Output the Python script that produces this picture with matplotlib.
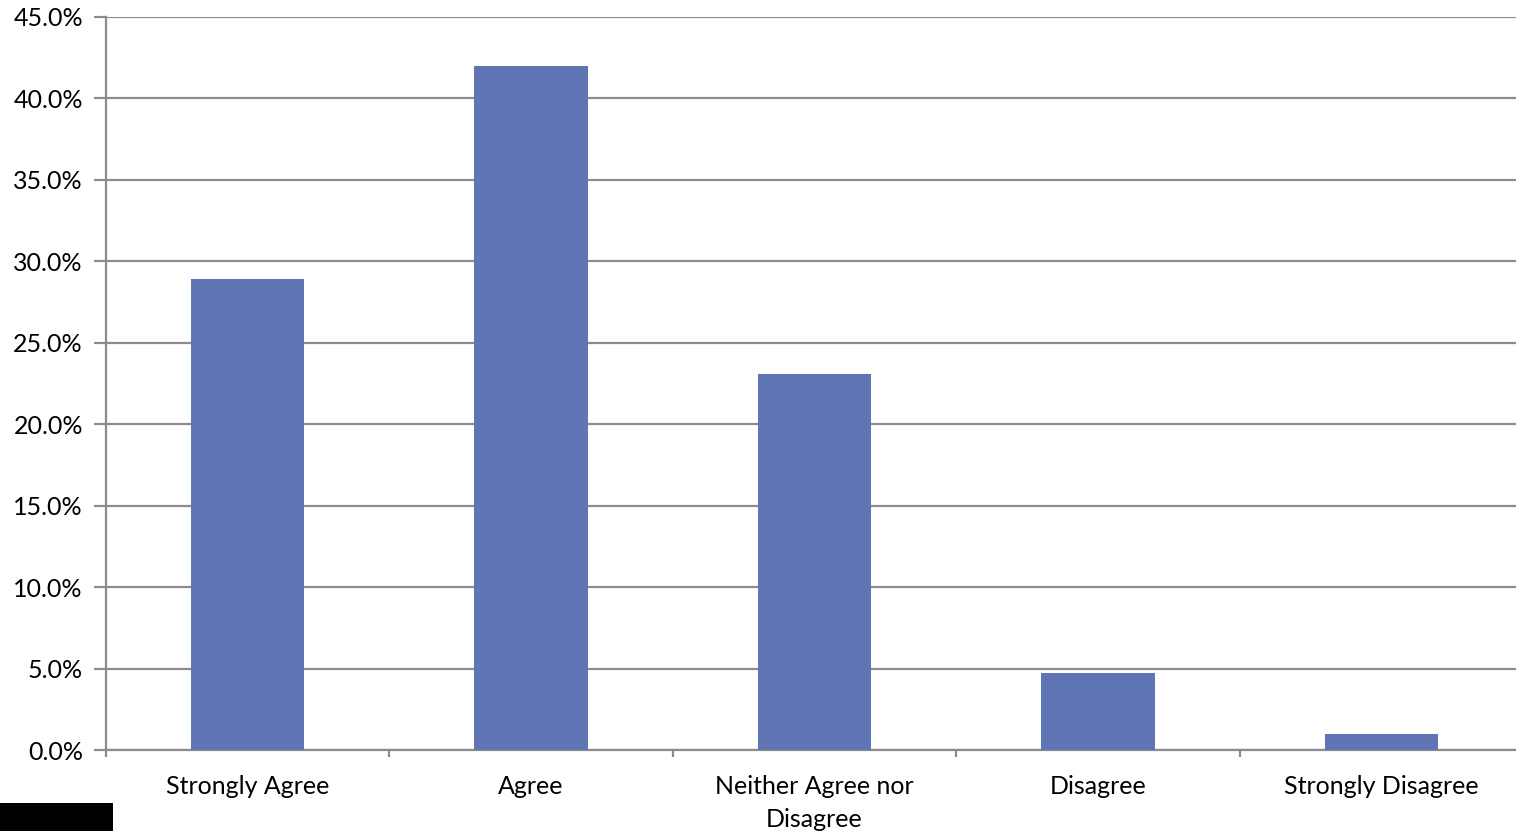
import matplotlib.pyplot as plt
from matplotlib.patches import Rectangle
from matplotlib.ticker import FuncFormatter, MultipleLocator

categories = ["Strongly Agree", "Agree", "Neither Agree nor\nDisagree", "Disagree", "Strongly Disagree"]
values = [28.9, 42.0, 23.1, 4.7, 1.0]

BAR_COLOR = "#6076B4"
GRID_COLOR = "#8C8C8C"

plt.rcParams["font.family"] = ["Lato", "DejaVu Sans"]

fig = plt.figure(figsize=(15.16, 8.31), dpi=100)
ax = fig.add_axes([106 / 1516, 81 / 831, 1417 / 1516, 733 / 831])

x = list(range(len(categories)))
ax.bar(x, values, width=0.40, color=BAR_COLOR, zorder=3)

ax.set_xlim(-0.5, len(categories) - 0.5)
ax.set_ylim(0, 45)
ax.yaxis.set_major_locator(MultipleLocator(5))
ax.yaxis.set_major_formatter(FuncFormatter(lambda v, p: f"{v:.1f}%"))
ax.grid(axis="y", color=GRID_COLOR, linewidth=1.6, zorder=0)

ax.set_xticks(x)
ax.set_xticklabels(categories, linespacing=1.55)
ax.set_xticks([i - 0.5 for i in range(len(categories) + 1)], minor=True)
ax.tick_params(axis="x", which="major", length=0, pad=18, labelsize=18)
ax.tick_params(axis="x", which="minor", length=5, width=1.6, color=GRID_COLOR)
ax.tick_params(axis="y", length=8.6, width=1.6, color=GRID_COLOR, labelsize=18, pad=8)

for side in ["top", "right"]:
    ax.spines[side].set_visible(False)
for side in ["left", "bottom"]:
    ax.spines[side].set_color(GRID_COLOR)
    ax.spines[side].set_linewidth(1.6)

# black block in the lower left corner of the original
fig.patches.append(Rectangle((0, 0), 113 / 1516, 28 / 831, transform=fig.transFigure,
                             facecolor="black", edgecolor="none"))

fig.savefig("out.png", dpi=100)
